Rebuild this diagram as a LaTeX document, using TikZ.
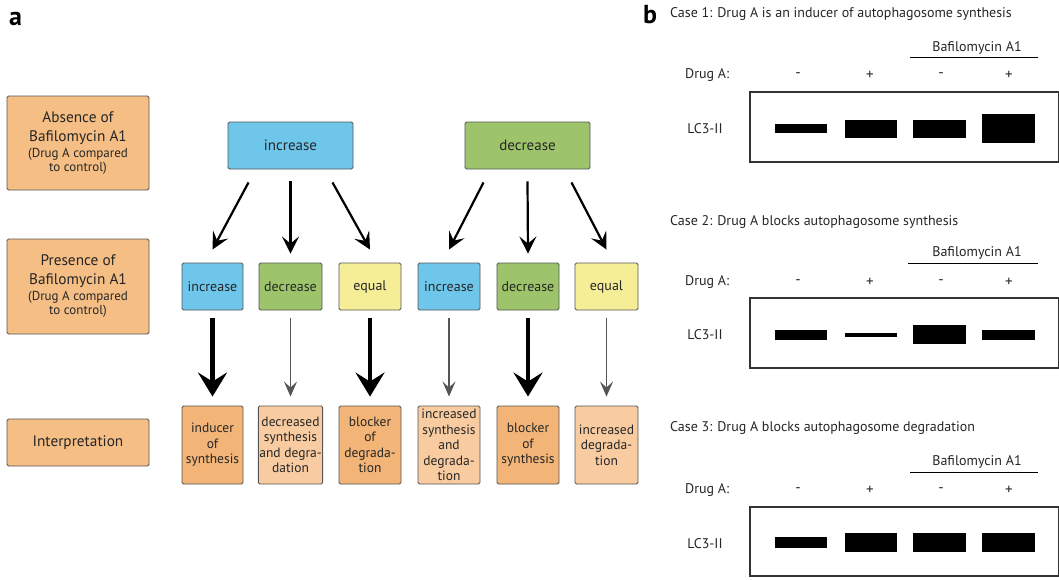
\documentclass[tikz,border=0pt]{standalone}
\usepackage{fontspec}
\setmainfont{PT Sans}
\usetikzlibrary{arrows.meta}
\definecolor{cblue}{HTML}{6EC6EA}
\definecolor{cgreen}{HTML}{9DC46A}
\definecolor{cyellow}{HTML}{F5EE97}
\definecolor{corange}{HTML}{F2B477}
\definecolor{clight}{HTML}{F8CBA0}
\definecolor{cleft}{HTML}{F5BE85}
\definecolor{cbord}{HTML}{555555}
\definecolor{cgray}{HTML}{555555}
\newcommand\lbig{\fontsize{15.3}{19}\selectfont}
\newcommand\lsmall{\fontsize{13}{14.5}\selectfont}
\tikzset{
  box/.style={draw=cbord, line width=0.9pt, rounded corners=1.5pt, inner sep=1pt, align=center, text=black!85},
  lbox/.style={box, fill=cleft, minimum width=142pt, font=\lbig},
  topbox/.style={box, minimum width=125pt, minimum height=47pt, font=\fontsize{15}{17}\selectfont},
  midbox/.style={box, minimum height=47pt, font=\fontsize{14}{16}\selectfont},
  botbox/.style={box, minimum height=78pt, font=\fontsize{13.5}{15.5}\selectfont},
  arr/.style={line width=2.2pt, -{Stealth[length=17pt,width=17pt,inset=7pt]}},
  thick arr/.style={line width=4.5pt, -{Stealth[length=24pt,width=29pt,inset=9pt]}},
  thin arr/.style={draw=cgray, line width=1.6pt, -{Stealth[length=15pt,width=13pt,inset=6pt]}},
  lbl/.style={font=\fontsize{14}{16}\selectfont, inner sep=0pt, text=black!85},
  sign/.style={font=\fontsize{15}{16}\selectfont, inner sep=0pt, text=black!85},
  plabel/.style={font=\bfseries\fontsize{26}{26}\selectfont, inner sep=0pt, anchor=base},
  band/.style={fill=black},
  blot/.style={draw=black!80, line width=1.3pt}
}
\begin{document}
\begin{tikzpicture}[x=1pt,y=-1pt]
\useasboundingbox (0,0) rectangle (1059,579);
% panel labels
\node[plabel] (la) at (15.5,25) {a};
\node[plabel] (lb) at (650,23) {b};
% left boxes
\node[lbox, minimum height=94pt] (abs) at (78,143) {Absence of\\Bafilomycin A1\\[-3pt]{\lsmall (Drug A compared}\\[-5pt]{\lsmall to control)}};
\node[lbox, minimum height=95pt] (pres) at (78,286.5) {Presence of\\Bafilomycin A1\\[-3pt]{\lsmall (Drug A compared}\\[-5pt]{\lsmall to control)}};
\node[lbox, minimum height=47pt] (interp) at (78,442.5) {Interpretation};
% top boxes
\node[topbox, fill=cblue] (inc) at (290.5,145.5) {increase};
\node[topbox, fill=cgreen] (dec) at (527.5,145.5) {decrease};
% row 2
\node[midbox, fill=cblue, minimum width=61pt] (r1) at (212.5,286.5) {increase};
\node[midbox, fill=cgreen, minimum width=63pt] (r2) at (290.5,286.5) {decrease};
\node[midbox, fill=cyellow, minimum width=62pt] (r3) at (370,286.5) {equal};
\node[midbox, fill=cblue, minimum width=62pt] (r4) at (449,286.5) {increase};
\node[midbox, fill=cgreen, minimum width=62pt] (r5) at (528,286.5) {decrease};
\node[midbox, fill=cyellow, minimum width=63pt] (r6) at (606.5,286.5) {equal};
% row 3
\node[botbox, fill=corange, minimum width=61pt] (b1) at (212.5,445) {inducer\\of\\synthesis};
\node[botbox, fill=clight, minimum width=63pt] (b2) at (290.5,445) {decreased\\synthesis\\and degra-\\dation};
\node[botbox, fill=corange, minimum width=62pt] (b3) at (370,445) {blocker\\of\\degrada-\\tion};
\node[botbox, fill=clight, minimum width=62pt] (b4) at (449,445) {increased\\synthesis\\and\\degrada-\\tion};
\node[botbox, fill=corange, minimum width=62pt] (b5) at (528,445) {blocker\\of\\synthesis};
\node[botbox, fill=clight, minimum width=63pt] (b6) at (606.5,445) {increased\\degrada-\\tion};
% top arrows
\draw[arr] ([xshift=-42pt,yshift=-13pt]inc.south) -- ([yshift=13pt]r1.north);
\draw[arr] ([yshift=-12pt]inc.south) -- ([yshift=9pt]r2.north);
\draw[arr] ([xshift=42pt,yshift=-13pt]inc.south) -- ([yshift=13pt]r3.north);
\draw[arr] ([xshift=-44pt,yshift=-13pt]dec.south) -- ([yshift=13pt]r4.north);
\draw[arr] ([yshift=-12pt]dec.south) -- ([yshift=9pt]r5.north);
\draw[arr] ([xshift=44pt,yshift=-13pt]dec.south) -- ([yshift=13pt]r6.north);
% vertical arrows
\draw[thick arr] ([yshift=-8pt]r1.south) -- ([yshift=9pt]b1.north);
\draw[thin arr] ([yshift=-8pt]r2.south) -- ([yshift=9pt]b2.north);
\draw[thick arr] ([yshift=-8pt]r3.south) -- ([yshift=9pt]b3.north);
\draw[thin arr] ([yshift=-8pt]r4.south) -- ([yshift=9pt]b4.north);
\draw[thick arr] ([yshift=-8pt]r5.south) -- ([yshift=9pt]b5.north);
\draw[thin arr] ([yshift=-8pt]r6.south) -- ([yshift=9pt]b6.north);
% ---------- panel b ----------
% case 1
\node[lbl, anchor=west] (c1) at (670,14) {Case 1: Drug A is an inducer of autophagosome synthesis};
\node[lbl] (baf1) at (977,48) {Bafilomycin A1};
\draw[line width=1pt] (910,57) -- (1038,57);
\node[lbl, anchor=west] (d1) at (685,75) {Drug A:};
\node[sign] at (798,75) {-};
\node[sign] at (870,75) {+};
\node[sign] at (941,75) {-};
\node[sign] at (1009,75) {+};
\draw[blot] (750,92) rectangle (1058.3,162);
\node[lbl] (lc1) at (705,129) {LC3-II};
\fill[band] (775,124) rectangle (827,133);
\fill[band] (845,120) rectangle (897,138);
\fill[band] (913,120) rectangle (966,138);
\fill[band] (982,114) rectangle (1035,143);
% case 2
\node[lbl, anchor=west] (c2) at (670,222) {Case 2: Drug A blocks autophagosome synthesis};
\node[lbl] (baf2) at (977,253) {Bafilomycin A1};
\draw[line width=1pt] (908,263) -- (1038,263);
\node[lbl, anchor=west] (d2) at (685,282) {Drug A:};
\node[sign] at (798,282) {-};
\node[sign] at (870,282) {+};
\node[sign] at (941,282) {-};
\node[sign] at (1009,282) {+};
\draw[blot] (750,298) rectangle (1058.3,368);
\node[lbl] (lc2) at (705,335) {LC3-II};
\fill[band] (775,330) rectangle (827,340);
\fill[band] (845,333) rectangle (897,337);
\fill[band] (913,325) rectangle (966,344);
\fill[band] (982,330) rectangle (1035,340);
% case 3
\node[lbl, anchor=west] (c3) at (670,428) {Case 3: Drug A blocks autophagosome degradation};
\node[lbl] (baf3) at (977,462) {Bafilomycin A1};
\draw[line width=1pt] (910,472) -- (1038,472);
\node[lbl, anchor=west] (d3) at (685,490) {Drug A:};
\node[sign] at (798,490) {-};
\node[sign] at (870,490) {+};
\node[sign] at (941,490) {-};
\node[sign] at (1009,490) {+};
\draw[blot] (750,507) rectangle (1058.3,576);
\node[lbl] (lc3) at (705,544) {LC3-II};
\fill[band] (775,537) rectangle (827,548);
\fill[band] (845,533) rectangle (897,552);
\fill[band] (913,533) rectangle (966,552);
\fill[band] (982,533) rectangle (1035,552);
\end{tikzpicture}
\end{document}
